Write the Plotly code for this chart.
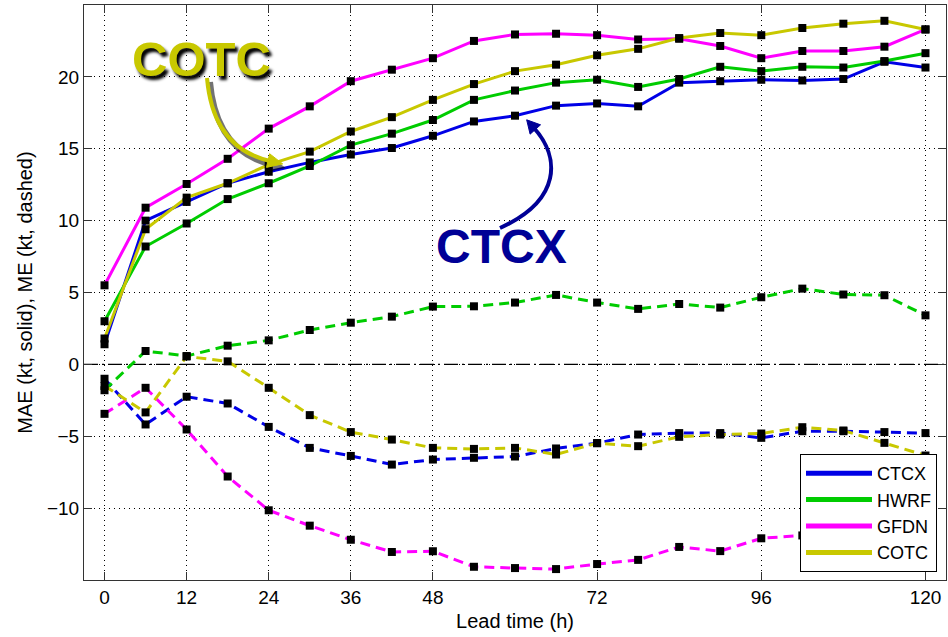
import plotly.graph_objects as go

# ---------------- data ----------------
lead_hours = [0, 6, 12, 18, 24, 30, 36, 42, 48, 54, 60, 66, 72, 78, 84, 90, 96, 102, 108, 114, 120]
x_tick_vals = [0, 12, 24, 36, 48, 72, 96, 120]
y_tick_vals = [-10, -5, 0, 5, 10, 15, 20]
model_names = ["CTCX", "HWRF", "GFDN", "COTC"]

mae_ctcx = [1.4, 10.0, 11.3, 12.6, 13.4, 14.05, 14.6, 15.05, 15.9, 16.9, 17.3, 18.0, 18.15, 17.95, 19.6, 19.7, 19.8, 19.75, 19.85, 21.05, 20.65]
mae_hwrf = [3.0, 8.2, 9.8, 11.5, 12.6, 13.8, 15.25, 16.05, 17.0, 18.4, 19.05, 19.6, 19.8, 19.3, 19.85, 20.7, 20.4, 20.7, 20.65, 21.1, 21.65]
mae_gfdn = [5.5, 10.9, 12.55, 14.3, 16.4, 17.95, 19.7, 20.5, 21.3, 22.5, 22.95, 23.0, 22.9, 22.6, 22.65, 22.15, 21.3, 21.8, 21.8, 22.1, 23.3]
mae_cotc = [1.8, 9.4, 11.6, 12.6, 13.9, 14.8, 16.2, 17.2, 18.4, 19.5, 20.4, 20.85, 21.5, 21.95, 22.7, 23.05, 22.9, 23.4, 23.7, 23.9, 23.3]

me_ctcx = [-1.0, -4.18, -2.25, -2.72, -4.35, -5.81, -6.37, -6.97, -6.62, -6.5, -6.41, -5.85, -5.48, -4.88, -4.78, -4.78, -5.11, -4.65, -4.65, -4.71, -4.78]
me_hwrf = [-1.8, 0.93, 0.58, 1.3, 1.67, 2.39, 2.9, 3.32, 4.02, 4.04, 4.3, 4.83, 4.3, 3.86, 4.2, 3.95, 4.67, 5.27, 4.86, 4.81, 3.41]
me_gfdn = [-3.44, -1.63, -4.53, -7.8, -10.15, -11.22, -12.2, -13.05, -13.0, -14.08, -14.17, -14.24, -13.89, -13.6, -12.7, -12.99, -12.1, -11.9, -11.7, -11.6, -11.4]
me_cotc = [-1.5, -3.34, 0.55, 0.21, -1.63, -3.53, -4.71, -5.23, -5.81, -5.88, -5.81, -6.27, -5.48, -5.69, -5.04, -4.88, -4.81, -4.37, -4.6, -5.46, -6.34]

# ---------------- style ----------------
colors = {"CTCX": "#0000E6", "HWRF": "#00CC00", "GFDN": "#FF00FF", "COTC": "#C8C800"}
mae = {"CTCX": mae_ctcx, "HWRF": mae_hwrf, "GFDN": mae_gfdn, "COTC": mae_cotc}
me = {"CTCX": me_ctcx, "HWRF": me_hwrf, "GFDN": me_gfdn, "COTC": me_cotc}

W, H = 948, 637
M_L, M_R, M_T, M_B = 84, 2, 5, 57
X_RANGE = [-3, 123]
Y_RANGE = [-15, 25]
PW = W - M_L - M_R
PH = H - M_T - M_B
FONT = "Liberation Sans, Arial, Helvetica, sans-serif"


def px2x(px):
    return X_RANGE[0] + (px - M_L) / PW * (X_RANGE[1] - X_RANGE[0])


def px2y(py):
    return Y_RANGE[1] - (py - M_T) / PH * (Y_RANGE[1] - Y_RANGE[0])


def pt(p):
    return f"{px2x(p[0]):.4f},{px2y(p[1]):.4f}"


fig = go.Figure()

# MAE (solid) lines
for m in model_names:
    fig.add_trace(go.Scatter(x=lead_hours, y=mae[m], mode="lines", showlegend=False,
                             line=dict(color=colors[m], width=3), hoverinfo="skip"))
# ME (dashed) lines
for m in model_names:
    fig.add_trace(go.Scatter(x=lead_hours, y=me[m], mode="lines", showlegend=False,
                             line=dict(color=colors[m], width=3, dash="10px,6px"), hoverinfo="skip"))
# markers
for m in model_names:
    for series in (mae[m], me[m]):
        fig.add_trace(go.Scatter(x=lead_hours, y=series, mode="markers", showlegend=False,
                                 marker=dict(symbol="square", size=8, color="black"), hoverinfo="skip"))
# legend entries
for m in model_names:
    fig.add_trace(go.Scatter(x=[None], y=[None], mode="lines", name=m,
                             line=dict(color=colors[m], width=5)))

shapes = []
# zero line (dash-dot)
shapes.append(dict(type="line", xref="paper", x0=0, x1=1, yref="y", y0=0, y1=0,
                   line=dict(color="black", width=1.2, dash="14px,4px,2px,4px"), layer="below"))


def arrow_shapes(pts, kind, color, width, head_len, head_half, shadow=None):
    out = []
    import math
    if kind == "Q":
        p0, c, p1 = pts
        path = f"M{pt(p0)} Q{pt(c)} {pt(p1)}"
        last_c = c
    else:
        p0, c1, c2, p1 = pts
        path = f"M{pt(p0)} C{pt(c1)} {pt(c2)} {pt(p1)}"
        last_c = c2
    dx, dy = p1[0] - last_c[0], p1[1] - last_c[1]
    n = math.hypot(dx, dy)
    ux, uy = dx / n, dy / n
    tip = (p1[0] + ux * head_len, p1[1] + uy * head_len)
    base_back = (p1[0] - ux * 2, p1[1] - uy * 2)
    b1 = (base_back[0] - uy * head_half, base_back[1] + ux * head_half)
    b2 = (base_back[0] + uy * head_half, base_back[1] - ux * head_half)
    head = f"M{pt(tip)} L{pt(b1)} L{pt(b2)} Z"
    if shadow:
        sx, sy = shadow

        def shift(p):
            return (p[0] + sx, p[1] + sy)
        if kind == "Q":
            spath = f"M{pt(shift(p0))} Q{pt(shift(c))} {pt(shift(p1))}"
        else:
            spath = f"M{pt(shift(p0))} C{pt(shift(c1))} {pt(shift(c2))} {pt(shift(p1))}"
        shead = f"M{pt(shift(tip))} L{pt(shift(b1))} L{pt(shift(b2))} Z"
        out.append(dict(type="path", xref="x", yref="y", path=spath,
                        line=dict(color="rgba(0,0,0,0.55)", width=width + 2)))
        out.append(dict(type="path", xref="x", yref="y", path=shead,
                        fillcolor="rgba(0,0,0,0.55)", line=dict(width=0)))
    out.append(dict(type="path", xref="x", yref="y", path=path, line=dict(color=color, width=width)))
    out.append(dict(type="path", xref="x", yref="y", path=head, fillcolor=color,
                    line=dict(color=color, width=1)))
    return out


shapes += arrow_shapes([(207, 78), (213, 148), (270, 161)], "Q", "#C8C800", 4, 13, 7, shadow=(3, 4))
shapes += arrow_shapes([(500, 228), (562, 200), (560, 157), (534, 128)], "C", "#000096", 4, 11, 7)

annotations = [
    dict(x=px2x(201), y=px2y(59), xref="x", yref="y", text="<b>COTC</b>", showarrow=False,
         font=dict(family=FONT, size=49, color="#C8C800", shadow="3px 4px 3px #000")),
    dict(x=px2x(501), y=px2y(246), xref="x", yref="y", text="<b>CTCX</b>", showarrow=False,
         font=dict(family=FONT, size=48, color="#000096")),
]

fig.update_layout(
    width=W, height=H,
    margin=dict(l=M_L, r=M_R, t=M_T, b=M_B),
    paper_bgcolor="white", plot_bgcolor="white",
    font=dict(family=FONT, size=19, color="black"),
    shapes=shapes, annotations=annotations,
    legend=dict(x=(937 - M_L) / PW, xanchor="right", y=(H - M_B - 572) / PH, yanchor="bottom",
                bgcolor="white", bordercolor="black", borderwidth=1,
                font=dict(family=FONT, size=18, color="black"), itemwidth=66,
                tracegroupgap=0),
    xaxis=dict(range=X_RANGE, tickvals=x_tick_vals, ticks="inside", ticklen=8, tickcolor="#333",
               showline=True, linecolor="#333", linewidth=1, mirror="ticks",
               showgrid=True, gridcolor="black", gridwidth=1, griddash="1px,4px",
               zeroline=False, title=dict(text="Lead time (h)", font=dict(size=20), standoff=7),
               tickfont=dict(size=19)),
    yaxis=dict(range=Y_RANGE, tickvals=y_tick_vals, ticks="inside", ticklen=8, tickcolor="#333",
               showline=True, linecolor="#333", linewidth=1, mirror="ticks",
               showgrid=True, gridcolor="black", gridwidth=1, griddash="1px,4px",
               zeroline=False, title=dict(text="MAE (kt, solid), ME (kt, dashed)", font=dict(size=20), standoff=8),
               tickfont=dict(size=19)),
)

fig.write_html("out.html")
